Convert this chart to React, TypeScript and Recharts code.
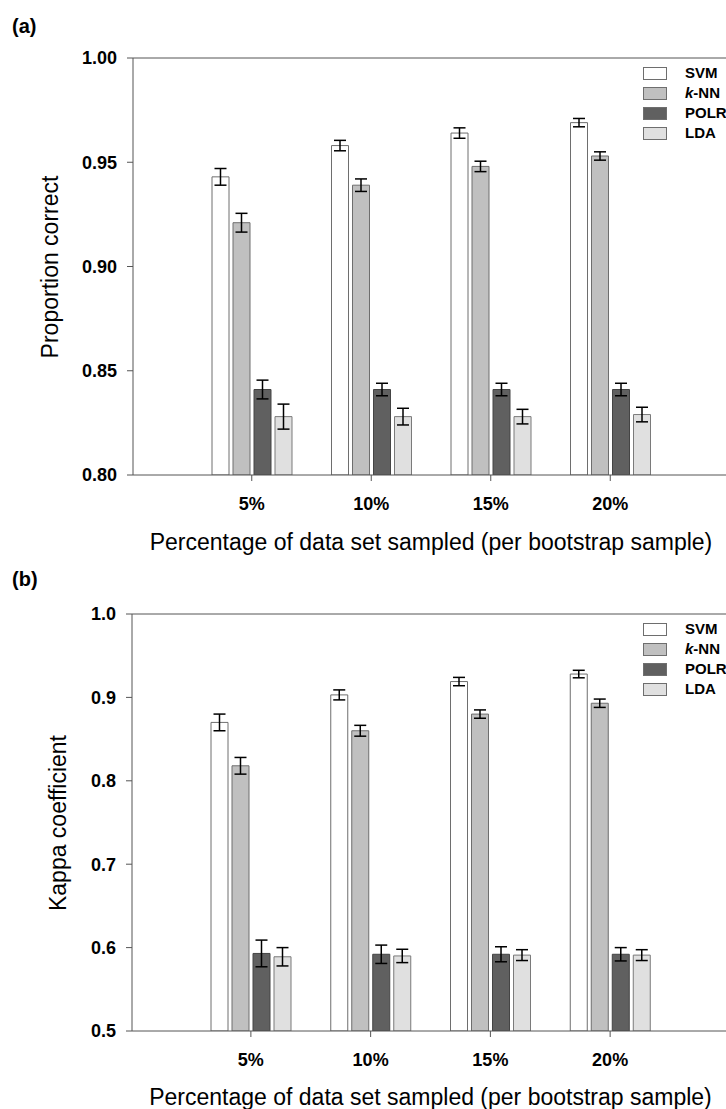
import React from 'react';
import { BarChart, Bar, XAxis, YAxis, ErrorBar, Legend, ReferenceLine } from 'recharts';

// categories (share of the data set drawn per bootstrap sample)
const categories = ['5%', '10%', '15%', '20%'];

// (a) proportion correct
const accSvm = [0.943, 0.958, 0.964, 0.969];
const accSvmErr = [0.004, 0.0025, 0.0025, 0.002];
const accKnn = [0.921, 0.939, 0.948, 0.953];
const accKnnErr = [0.0045, 0.003, 0.0025, 0.002];
const accPolr = [0.841, 0.841, 0.841, 0.841];
const accPolrErr = [0.0045, 0.003, 0.003, 0.003];
const accLda = [0.828, 0.828, 0.828, 0.829];
const accLdaErr = [0.006, 0.004, 0.0035, 0.0035];
const accTicks = [0.8, 0.85, 0.9, 0.95, 1.0];

// (b) kappa coefficient
const kapSvm = [0.87, 0.903, 0.919, 0.928];
const kapSvmErr = [0.01, 0.006, 0.005, 0.0045];
const kapKnn = [0.818, 0.86, 0.88, 0.893];
const kapKnnErr = [0.01, 0.0065, 0.005, 0.005];
const kapPolr = [0.593, 0.592, 0.592, 0.592];
const kapPolrErr = [0.016, 0.011, 0.009, 0.008];
const kapLda = [0.589, 0.59, 0.591, 0.591];
const kapLdaErr = [0.011, 0.008, 0.0065, 0.0065];
const kapTicks = [0.5, 0.6, 0.7, 0.8, 0.9, 1.0];

const font = '"Liberation Sans", Arial, Helvetica, sans-serif';
const axisColor = '#555';

const series = [
  { key: 'svm', name: 'SVM', fill: '#ffffff', stroke: '#6e6e6e' },
  { key: 'knn', name: 'k-NN', fill: '#c0c0c0', stroke: '#6e6e6e' },
  { key: 'polr', name: 'POLR', fill: '#606060', stroke: '#444444' },
  { key: 'lda', name: 'LDA', fill: '#e0e0e0', stroke: '#7a7a7a' },
];
const seriesOrder = series.map((s) => s.name);

const buildRows = (svm: number[], svmErr: number[], knn: number[], knnErr: number[],
  polr: number[], polrErr: number[], lda: number[], ldaErr: number[]) =>
  categories.map((pct, i) => ({
    pct,
    svm: svm[i], svmErr: svmErr[i],
    knn: knn[i], knnErr: knnErr[i],
    polr: polr[i], polrErr: polrErr[i],
    lda: lda[i], ldaErr: ldaErr[i],
  }));

const accRows = buildRows(accSvm, accSvmErr, accKnn, accKnnErr, accPolr, accPolrErr, accLda, accLdaErr);
const kapRows = buildRows(kapSvm, kapSvmErr, kapKnn, kapKnnErr, kapPolr, kapPolrErr, kapLda, kapLdaErr);

// legend keeps the drawing order of the bars, not alphabetical
const LegendBox = ({ payload }: any) => {
  const items = [...(payload || [])].sort(
    (a: any, b: any) => seriesOrder.indexOf(a.value) - seriesOrder.indexOf(b.value)
  );
  return (
    <div style={{ fontFamily: font, fontWeight: 'bold', fontSize: 15, color: '#000' }}>
      {items.map((p: any) => (
        <div key={p.value} style={{ display: 'flex', alignItems: 'center', height: 20 }}>
          <span
            style={{
              display: 'inline-block',
              width: 24,
              height: 13,
              boxSizing: 'border-box',
              background: p.color,
              border: '1px solid #6e6e6e',
            }}
          />
          <span style={{ marginLeft: 18, lineHeight: '20px' }}>
            {p.value === 'k-NN' ? (<><i>k</i>-NN</>) : p.value}
          </span>
        </div>
      ))}
    </div>
  );
};

const tickStyle = { fill: '#000', fontSize: 18, fontWeight: 'bold', fontFamily: font };

interface PanelProps {
  top: number;
  left: number;
  rows: any[];
  domain: [number, number];
  ticks: number[];
  digits: number;
}

const Panel: React.FC<PanelProps> = ({ top, left, rows, domain, ticks, digits }) => (
  <div style={{ position: 'absolute', top, left: 0 }}>
    <BarChart
      width={760}
      height={560}
      data={rows}
      barGap={4}
      margin={{ top: 58, right: 31, bottom: 45, left: left - 60 }}
    >
      <XAxis
        dataKey="pct"
        padding={{ left: 59, right: 59 }}
        interval={0}
        height={40}
        tickSize={6}
        tickMargin={16}
        tick={tickStyle}
        axisLine={{ stroke: axisColor }}
        tickLine={{ stroke: axisColor }}
      />
      <YAxis
        width={60}
        type="number"
        domain={domain}
        ticks={ticks}
        interval={0}
        allowDataOverflow
        tickSize={6}
        tickMargin={10}
        tickFormatter={(v: number) => v.toFixed(digits)}
        tick={tickStyle}
        axisLine={{ stroke: axisColor }}
        tickLine={{ stroke: axisColor }}
      />
      <ReferenceLine y={domain[1]} stroke={axisColor} />
      <Legend
        layout="horizontal"
        verticalAlign="middle"
        align="center"
        content={<LegendBox />}
        wrapperStyle={{ left: 643, top: 63, width: 'auto', height: 'auto' }}
      />
      {series.map((s) => (
        <Bar
          key={s.key}
          dataKey={s.key}
          name={s.name}
          fill={s.fill}
          stroke={s.stroke}
          strokeWidth={1}
          barSize={17}
          isAnimationActive={false}
        >
          <ErrorBar
            dataKey={`${s.key}Err`}
            direction="y"
            width={6}
            stroke="#000"
            strokeWidth={1.5}
            isAnimationActive={false}
          />
        </Bar>
      ))}
    </BarChart>
  </div>
);

const xTitle = 'Percentage of data set sampled (per bootstrap sample)';

const textBase: React.CSSProperties = {
  position: 'absolute',
  fontFamily: font,
  color: '#000',
  whiteSpace: 'nowrap',
  lineHeight: 1,
};

export default function App() {
  return (
    <div
      style={{
        position: 'absolute',
        left: 0,
        top: 0,
        width: 726,
        height: 1109,
        overflow: 'hidden',
        background: '#fff',
      }}
    >
      <Panel top={0} left={133} rows={accRows} domain={[0.8, 1.0]} ticks={accTicks} digits={2} />
      <Panel top={556} left={132} rows={kapRows} domain={[0.5, 1.0]} ticks={kapTicks} digits={1} />

      <div style={{ ...textBase, left: 12, top: 16, fontSize: 20, fontWeight: 'bold' }}>(a)</div>
      <div style={{ ...textBase, left: 12, top: 569, fontSize: 20, fontWeight: 'bold' }}>(b)</div>

      <div
        style={{
          ...textBase,
          left: 50,
          top: 266.5,
          fontSize: 23,
          transform: 'translate(-50%, -50%) rotate(-90deg)',
        }}
      >
        Proportion correct
      </div>
      <div
        style={{
          ...textBase,
          left: 58,
          top: 823,
          fontSize: 23,
          transform: 'translate(-50%, -50%) rotate(-90deg)',
        }}
      >
        Kappa coefficient
      </div>

      <div style={{ ...textBase, left: 133, width: 596, top: 531, fontSize: 23, textAlign: 'center' }}>
        {xTitle}
      </div>
      <div style={{ ...textBase, left: 132, width: 597, top: 1086, fontSize: 23, textAlign: 'center' }}>
        {xTitle}
      </div>
    </div>
  );
}
